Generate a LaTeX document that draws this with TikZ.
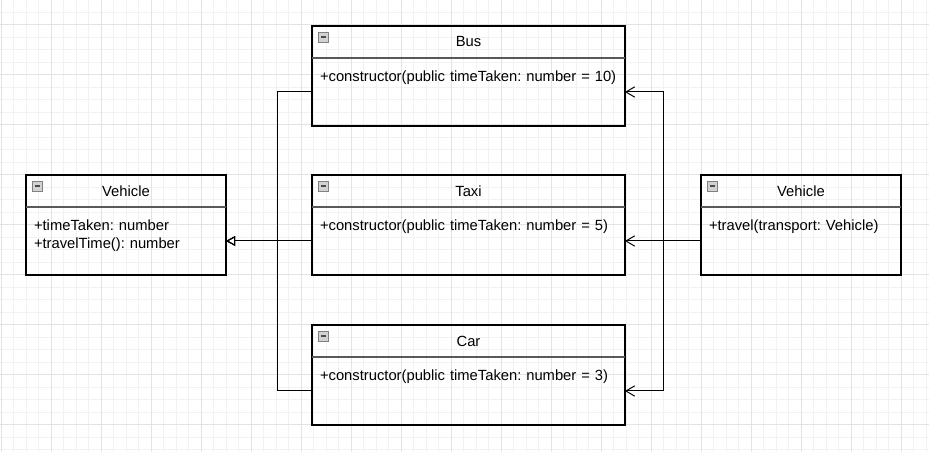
\documentclass[tikz,border=0pt]{standalone}
\usepackage{fontspec}
\setmainfont{Liberation Sans}
\usetikzlibrary{positioning,arrows.meta}
\newlength{\classwidth}
\newlength{\vehiclewidth}
\setlength{\classwidth}{7.825cm}
\setlength{\vehiclewidth}{5cm}

\begin{document}
\frenchspacing
\begin{tikzpicture}[font=\fontsize{10.5pt}{12.1pt}\selectfont]
    \tikzstyle{head} = [draw,line width=0.9pt,anchor=north west,minimum height=0.8cm,inner sep=0pt,outer sep=0pt]
    \tikzstyle{body} = [draw,line width=0.9pt,align=left,inner xsep=0.2cm,inner ysep=0pt,outer sep=0pt,text height=0.6cm,text depth=1.1cm]
    \tikzstyle{divider} = [draw=black!65,line width=1.4pt]
    \tikzstyle{collapse} = [draw=gray,fill=gray!35,line width=0.5pt,minimum size=0.25cm,inner sep=0pt]
    \tikzstyle{extends} = [-{Triangle[open,length=0.23cm,width=0.24cm]},line width=0.7pt]
    \tikzstyle{uses} = [-{Straight Barb[length=0.22cm,width=0.26cm]},line width=0.7pt]
      \useasboundingbox (0,0) rectangle (23.225,11.3);
      \fill[white] (0,0) rectangle (23.225,11.3);
      \begin{scope}
        \clip (0,0) rectangle (23.225,11.3);
        \draw[gray!10,line width=0.7pt,step=0.3125cm,shift={(0.0325,0.05)}] (-1,-1) grid (25,13);
        \draw[gray!22,line width=0.7pt,step=1.25cm,shift={(0.0325,0.675)}] (-2,-2) grid (25,13);
      \end{scope}
      \node[head,minimum width=\vehiclewidth] (vehicle) at (0.65,6.925) {Vehicle};
      \node[body,text width=\vehiclewidth-0.4cm,below=0pt of vehicle] (vehicleBody) {+timeTaken: number\\+travelTime(): number};
      \node[head,minimum width=\classwidth] (bus) at (7.8,10.65) {Bus};
      \node[body,text width=\classwidth-0.4cm,below=0pt of bus] (busBody) {+constructor(public timeTaken: number = 10)};
      \node[head,minimum width=\classwidth] (taxi) at (7.8,6.925) {Taxi};
      \node[body,text width=\classwidth-0.4cm,below=0pt of taxi] (taxiBody) {+constructor(public timeTaken: number = 5)};
      \node[head,minimum width=\classwidth] (car) at (7.8,3.175) {Car};
      \node[body,text width=\classwidth-0.4cm,below=0pt of car] (carBody) {+constructor(public timeTaken: number = 3)};
      \node[head,minimum width=\vehiclewidth] (traveller) at (17.525,6.925) {Vehicle};
      \node[body,text width=\vehiclewidth-0.4cm,below=0pt of traveller] (travellerBody) {+travel(transport: Vehicle)};
      \foreach \n in {vehicle,bus,taxi,car,traveller} {
        \draw[divider] (\n.south west) -- (\n.south east);
        \node[collapse] (\n Icon) at ([shift={(0.29,-0.275)}]\n.north west) {\color{black!70}\rule{0.14cm}{0.4mm}};
      }
      \draw[extends] (taxiBody) -- (vehicleBody);
      \foreach \n in {bus,car} \draw[extends] (\n Body.west) -- ++(-0.875,0) |- (vehicleBody.east);
      \draw[uses] (travellerBody) -- (taxiBody);
      \foreach \n in {bus,car} \draw[uses] (travellerBody.west) -- ++(-0.95,0) |- (\n Body.east);
  \end{tikzpicture}
\end{document}
